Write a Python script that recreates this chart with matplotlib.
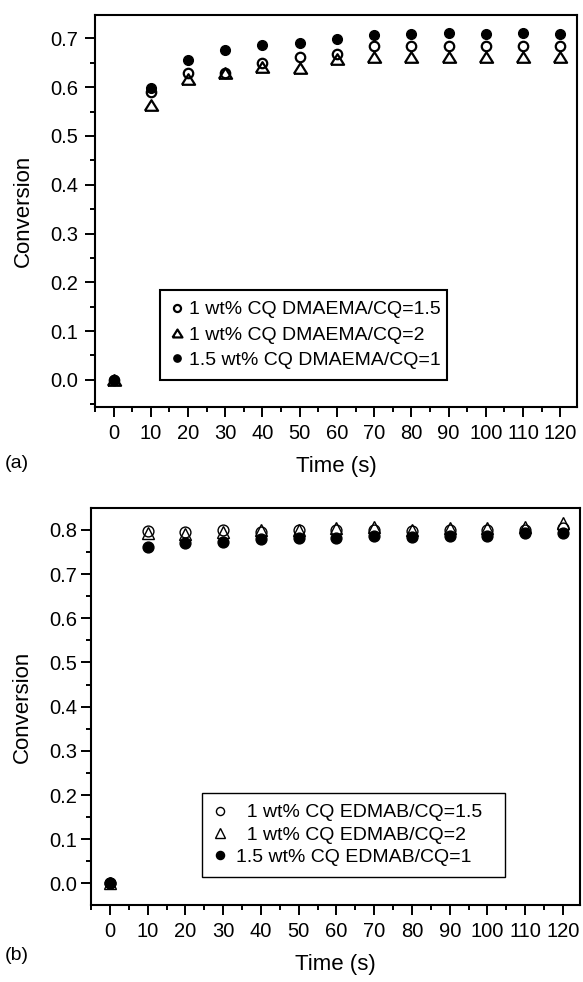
import matplotlib
matplotlib.use("Agg")
import matplotlib.pyplot as plt
from matplotlib.ticker import MultipleLocator, FormatStrFormatter

plt.rcParams['font.family'] = ['Liberation Sans', 'DejaVu Sans']

time = [0, 10, 20, 30, 40, 50, 60, 70, 80, 90, 100, 110, 120]

# Panel (a): DMAEMA
a_open_circle = [0.0, 0.59, 0.630, 0.630, 0.649, 0.662, 0.669, 0.684, 0.684, 0.684, 0.684, 0.684, 0.684]
a_triangle = [0.0, 0.563, 0.616, 0.630, 0.642, 0.639, 0.657, 0.662, 0.662, 0.662, 0.662, 0.662, 0.662]
a_filled = [0.0, 0.598, 0.656, 0.676, 0.686, 0.690, 0.698, 0.707, 0.710, 0.712, 0.710, 0.712, 0.710]
a_labels = ["1 wt% CQ DMAEMA/CQ=1.5", "1 wt% CQ DMAEMA/CQ=2", "1.5 wt% CQ DMAEMA/CQ=1"]

# Panel (b): EDMAB
b_open_circle = [0.0, 0.798, 0.796, 0.800, 0.795, 0.800, 0.800, 0.800, 0.798, 0.800, 0.800, 0.800, 0.805]
b_triangle = [0.0, 0.792, 0.791, 0.796, 0.800, 0.801, 0.804, 0.807, 0.800, 0.805, 0.804, 0.807, 0.815]
b_filled = [0.0, 0.761, 0.770, 0.772, 0.779, 0.781, 0.781, 0.787, 0.785, 0.786, 0.787, 0.792, 0.794]
b_labels = ["  1 wt% CQ EDMAB/CQ=1.5", "  1 wt% CQ EDMAB/CQ=2", "1.5 wt% CQ EDMAB/CQ=1"]

W, H = 583, 982
fig = plt.figure(figsize=(W / 100, H / 100), dpi=100)
ax1 = fig.add_axes([95 / W, 1 - 406.7 / H, (577 - 95) / W, (406.7 - 15) / H])
ax2 = fig.add_axes([91 / W, 1 - 905 / H, (580 - 91) / W, (905 - 508.3) / H])

squat_tri = [(-1.0, -0.8), (1.0, -0.8), (0.0, 0.8), (-1.0, -0.8)]


def style_axes(ax, ylim, ypad):
    ax.set_xlim(-5, 124.5)
    ax.set_ylim(*ylim)
    ax.xaxis.set_major_locator(MultipleLocator(10))
    ax.xaxis.set_minor_locator(MultipleLocator(5))
    ax.yaxis.set_major_locator(MultipleLocator(0.1))
    ax.yaxis.set_minor_locator(MultipleLocator(0.05))
    ax.yaxis.set_major_formatter(FormatStrFormatter('%.1f'))
    ax.tick_params(axis='both', which='major', direction='out', length=7, width=1.4,
                   labelsize=14.5, top=False, right=False)
    ax.tick_params(axis='x', which='major', pad=5.5)
    ax.tick_params(axis='y', which='major', pad=ypad)
    ax.tick_params(axis='both', which='minor', direction='out', length=3.6, width=1.4,
                   top=False, right=False)
    for s in ax.spines.values():
        s.set_linewidth(1.5)
    ax.set_xlabel("Time (s)", fontsize=16, labelpad=9)
    ax.set_ylabel("Conversion", fontsize=16, labelpad=12)


# Panel (a)
ax1.plot(time, a_open_circle, linestyle='none', marker='o', markersize=6.8,
         markerfacecolor='none', markeredgecolor='black', markeredgewidth=1.6, label=a_labels[0])
ax1.plot(time, a_triangle, linestyle='none', marker=squat_tri, markersize=9.5,
         markerfacecolor='none', markeredgecolor='black', markeredgewidth=1.6, label=a_labels[1])
ax1.plot(time, a_filled, linestyle='none', marker='o', markersize=7,
         markerfacecolor='black', markeredgecolor='black', label=a_labels[2])
style_axes(ax1, (-0.055, 0.748), 5)
leg1 = ax1.legend(loc='upper left',
                  bbox_to_anchor=(160 / W, 1 - 387 / H, (447 - 160) / W, (387 - 290) / H),
                  bbox_transform=fig.transFigure, mode='expand', fontsize=14,
                  frameon=True, fancybox=False, edgecolor='black', framealpha=1,
                  handlelength=0.6, handletextpad=0.35, borderpad=0.55,
                  labelspacing=0.4, markerscale=0.75, borderaxespad=0)
leg1.get_frame().set_linewidth(1.5)

# Panel (b)
ax2.plot(time, b_open_circle, linestyle='none', marker='o', markersize=7.8,
         markerfacecolor='none', markeredgecolor='black', markeredgewidth=1.0, label=b_labels[0])
ax2.plot(time, b_triangle, linestyle='none', marker='^', markersize=9,
         markerfacecolor='none', markeredgecolor='black', markeredgewidth=1.0, label=b_labels[1])
ax2.plot(time, b_filled, linestyle='none', marker='o', markersize=7.8,
         markerfacecolor='black', markeredgecolor='black', label=b_labels[2])
style_axes(ax2, (-0.049, 0.849), 3)
leg2 = ax2.legend(loc='upper left',
                  bbox_to_anchor=(202 / W, 1 - 880 / H, (505 - 202) / W, (880 - 793) / H),
                  bbox_transform=fig.transFigure, mode='expand', fontsize=14,
                  frameon=True, fancybox=False, edgecolor='black', framealpha=1,
                  handlelength=0.8, handletextpad=0.4, borderpad=0.55,
                  labelspacing=0.25, markerscale=0.75, borderaxespad=0)
leg2.get_frame().set_linewidth(1.0)

fig.text(5 / W, 1 - 463 / H, "(a)", fontsize=14, ha='left', va='center')
fig.text(5 / W, 1 - 955 / H, "(b)", fontsize=14, ha='left', va='center')

fig.savefig("out.png", dpi=100)
